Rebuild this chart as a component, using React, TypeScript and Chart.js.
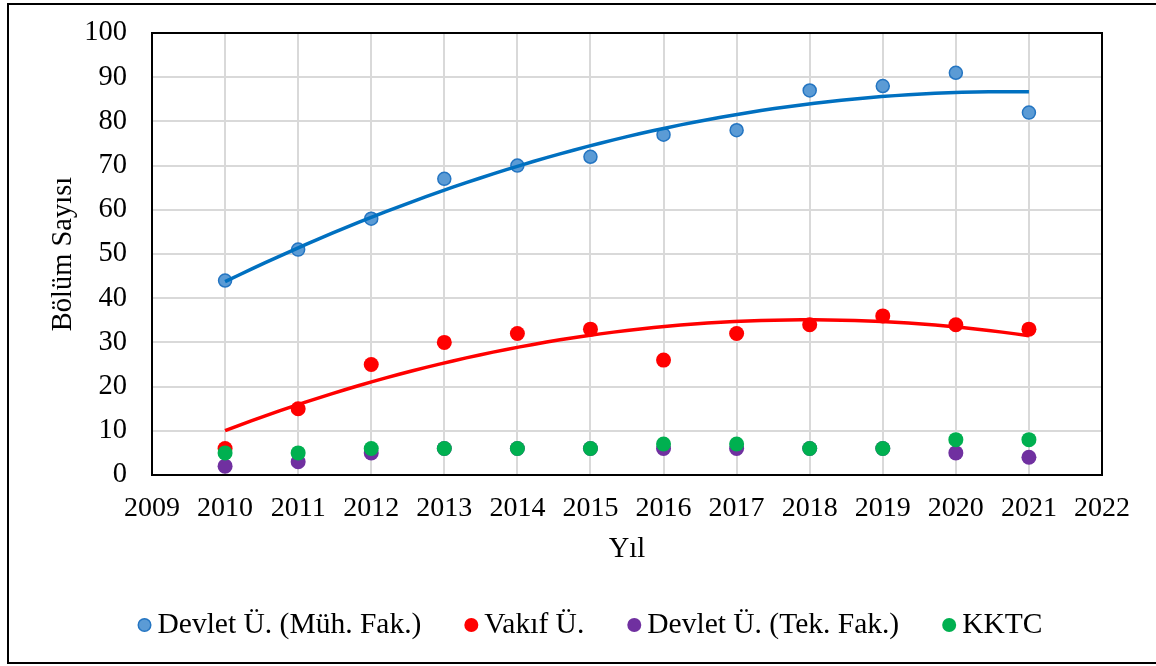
import React, { useEffect, useRef } from "react";
import { Chart, registerables } from "chart.js";

Chart.register(...registerables);

const years = [2010, 2011, 2012, 2013, 2014, 2015, 2016, 2017, 2018, 2019, 2020, 2021];
const devletMuh = [44, 51, 58, 67, 70, 72, 77, 78, 87, 88, 91, 82];
const vakif = [6, 15, 25, 30, 32, 33, 26, 32, 34, 36, 34, 33];
const devletTek = [2, 3, 5, 6, 6, 6, 6, 6, 6, 6, 5, 4];
const kktc = [5, 5, 6, 6, 6, 6, 7, 7, 6, 6, 8, 8];

const seriesNames = ["Devlet Ü. (Müh. Fak.)", "Vakıf Ü.", "Devlet Ü. (Tek. Fak.)", "KKTC"];
const xMin = 2009;
const xMax = 2022;
const yMin = 0;
const yMax = 100;
const xAxisTitle = "Yıl";
const yAxisTitle = "Bölüm Sayısı";

const FONT = "'Liberation Serif', 'Times New Roman', serif";

// Excel-style 2nd order polynomial trendline (least squares)
function polyFit2(xs: number[], ys: number[]) {
  const x0 = (xs[0] + xs[xs.length - 1]) / 2;
  let s0 = 0, s1 = 0, s2 = 0, s3 = 0, s4 = 0, t0 = 0, t1 = 0, t2 = 0;
  for (let i = 0; i < xs.length; i++) {
    const x = xs[i] - x0;
    const y = ys[i];
    s0 += 1; s1 += x; s2 += x * x; s3 += x * x * x; s4 += x * x * x * x;
    t0 += y; t1 += x * y; t2 += x * x * y;
  }
  const det = (m: number[][]) =>
    m[0][0] * (m[1][1] * m[2][2] - m[1][2] * m[2][1]) -
    m[0][1] * (m[1][0] * m[2][2] - m[1][2] * m[2][0]) +
    m[0][2] * (m[1][0] * m[2][1] - m[1][1] * m[2][0]);
  const M = [[s0, s1, s2], [s1, s2, s3], [s2, s3, s4]];
  const T = [t0, t1, t2];
  const D = det(M);
  const col = (k: number) => M.map((row, r) => row.map((v, c) => (c === k ? T[r] : v)));
  const a = det(col(0)) / D;
  const b = det(col(1)) / D;
  const c = det(col(2)) / D;
  return (x: number) => a + b * (x - x0) + c * (x - x0) * (x - x0);
}

function trendPoints(xs: number[], ys: number[]) {
  const f = polyFit2(xs, ys);
  const pts: { x: number; y: number }[] = [];
  const start = xs[0];
  const end = xs[xs.length - 1];
  const n = 60;
  for (let i = 0; i <= n; i++) {
    const x = start + ((end - start) * i) / n;
    pts.push({ x, y: f(x) });
  }
  return pts;
}

const toPts = (ys: number[]) => years.map((x, i) => ({ x, y: ys[i] }));

const framePlugin = {
  id: "framePlugin",
  beforeDatasetsDraw(chart: any) {
    const { ctx, chartArea } = chart;
    ctx.save();
    ctx.strokeStyle = "#000000";
    ctx.lineWidth = 2;
    ctx.strokeRect(chartArea.left, chartArea.top, chartArea.right - chartArea.left, chartArea.bottom - chartArea.top);
    ctx.restore();
  },
  afterDraw(chart: any) {
    const { ctx } = chart;
    ctx.save();
    ctx.strokeStyle = "#000000";
    ctx.lineWidth = 2;
    ctx.beginPath();
    ctx.moveTo(1160, 4);
    ctx.lineTo(8, 4);
    ctx.lineTo(8, 663);
    ctx.lineTo(1160, 663);
    ctx.stroke();
    ctx.restore();
  },
};

// Legend drawn from the datasets' own labels and colours
const legendPlugin = {
  id: "excelLegend",
  afterDraw(chart: any) {
    const { ctx } = chart;
    const items = chart.data.datasets.filter((d: any) => seriesNames.includes(d.label));
    const fontSize = 29.5;
    const r = 7;
    const textGap = 13;
    const itemGap = 43;
    const cy = 625;
    const centerX = 590;
    ctx.save();
    ctx.font = `${fontSize}px ${FONT}`;
    const widths = items.map((d: any) => ctx.measureText(d.label).width);
    let total = 0;
    widths.forEach((w: number, i: number) => {
      total += 2 * r + (textGap - r) + w;
      if (i < widths.length - 1) total += itemGap;
    });
    let x = centerX - total / 2;
    items.forEach((d: any, i: number) => {
      const mx = x + r;
      ctx.beginPath();
      ctx.arc(mx, cy, d.borderWidth ? r - d.borderWidth / 2 : r, 0, Math.PI * 2);
      ctx.fillStyle = d.backgroundColor;
      ctx.fill();
      if (d.borderWidth) {
        ctx.lineWidth = d.borderWidth;
        ctx.strokeStyle = d.borderColor;
        ctx.stroke();
      }
      ctx.fillStyle = "#000000";
      ctx.textBaseline = "middle";
      ctx.textAlign = "left";
      ctx.fillText(d.label, mx + textGap, cy);
      x = mx + textGap + widths[i] + itemGap;
    });
    ctx.restore();
  },
};

export default function App() {
  const ref = useRef<HTMLCanvasElement | null>(null);

  useEffect(() => {
    if (!ref.current) return;
    document.body.style.margin = "0";
    document.body.style.overflow = "hidden";
    const chart = new Chart(ref.current, {
      type: "scatter",
      data: {
        datasets: [
          {
            label: seriesNames[0],
            data: toPts(devletMuh),
            backgroundColor: "#5B9BD5",
            borderColor: "#2475C2",
            borderWidth: 1.5,
            pointRadius: 6.5,
            pointStyle: "circle",
            order: 3,
          },
          {
            label: seriesNames[1],
            data: toPts(vakif),
            backgroundColor: "#FF0000",
            borderColor: "#FF0000",
            borderWidth: 0,
            pointRadius: 7.5,
            pointStyle: "circle",
            order: 2,
          },
          {
            label: seriesNames[2],
            data: toPts(devletTek),
            backgroundColor: "#7030A0",
            borderColor: "#7030A0",
            borderWidth: 0,
            pointRadius: 7.5,
            pointStyle: "circle",
            order: 1,
          },
          {
            label: seriesNames[3],
            data: toPts(kktc),
            backgroundColor: "#00B050",
            borderColor: "#00B050",
            borderWidth: 0,
            pointRadius: 7.5,
            pointStyle: "circle",
            order: 0,
          },
          {
            label: "trend1",
            type: "line",
            data: trendPoints(years, devletMuh),
            borderColor: "#0070C0",
            borderWidth: 3.5,
            pointRadius: 0,
            fill: false,
            tension: 0,
            order: -1,
          } as any,
          {
            label: "trend2",
            type: "line",
            data: trendPoints(years, vakif),
            borderColor: "#FF0000",
            borderWidth: 3.5,
            pointRadius: 0,
            fill: false,
            tension: 0,
            order: -2,
          } as any,
        ],
      },
      options: {
        animation: false,
        responsive: false,
        events: [],
        layout: { padding: { top: 33, right: 54, bottom: 0, left: 0 } },
        scales: {
          x: {
            type: "linear",
            min: xMin,
            max: xMax,
            afterFit: (s: any) => { s.height = 191; },
            ticks: {
              stepSize: 1,
              padding: 20,
              color: "#000000",
              font: { family: FONT, size: 28, lineHeight: 1 },
              callback: (v: any) => String(v),
              maxRotation: 0,
              autoSkip: false,
            },
            grid: { color: "#D9D9D9", lineWidth: 2, drawTicks: false },
            border: { display: false },
            title: {
              display: true,
              text: xAxisTitle,
              color: "#000000",
              font: { family: FONT, size: 28.5, lineHeight: 1 },
              padding: { top: 0, bottom: 102 },
            },
          },
          y: {
            type: "linear",
            min: yMin,
            max: yMax,
            afterFit: (s: any) => { s.width = 152; s.paddingTop = 0; s.paddingBottom = 0; },
            ticks: {
              stepSize: 10,
              padding: 25,
              color: "#000000",
              font: { family: FONT, size: 28.5, lineHeight: 1 },
              callback: (v: any) => String(v),
            },
            grid: { color: "#D9D9D9", lineWidth: 2, drawTicks: false },
            border: { display: false },
            title: {
              display: true,
              text: yAxisTitle,
              color: "#000000",
              font: { family: FONT, size: 28.5, lineHeight: 1 },
              padding: { top: 49, bottom: 0 },
            },
          },
        },
        plugins: {
          tooltip: { enabled: false },
          legend: { display: false },
        },
      },
      plugins: [framePlugin, legendPlugin],
    } as any);
    return () => chart.destroy();
  }, []);

  return (
    <div style={{ position: "fixed", left: 0, top: 0, width: 1156, height: 666, overflow: "hidden", background: "#fff" }}>
      <canvas ref={ref} width={1156} height={666} style={{ display: "block" }} />
    </div>
  );
}
